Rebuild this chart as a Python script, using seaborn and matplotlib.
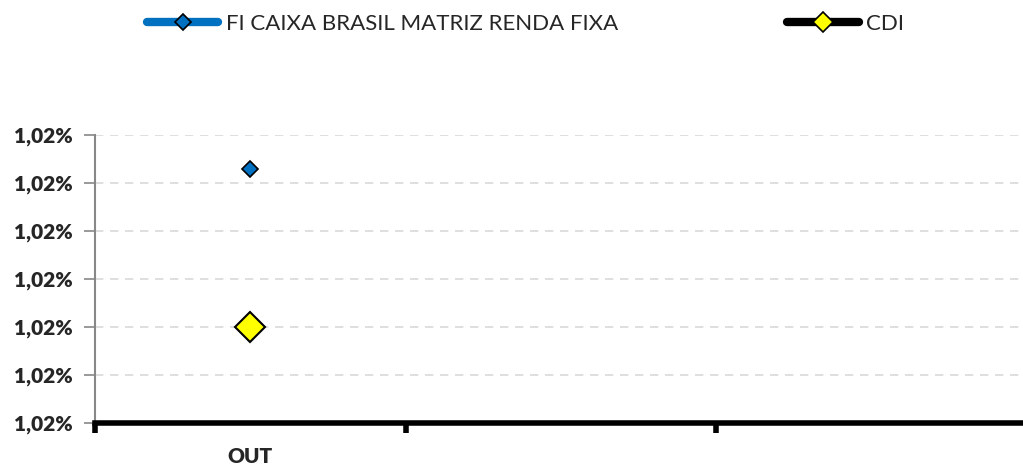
import numpy as np
import pandas as pd
import matplotlib
matplotlib.use("Agg")
import matplotlib.pyplot as plt
from matplotlib.lines import Line2D
from matplotlib.ticker import FixedLocator, FuncFormatter
import seaborn as sbn

# dados (rentabilidade mensal, %)
meses = ["OUT", "", ""]
fundo = [1.020529, np.nan, np.nan]
cdi = [1.0202, np.nan, np.nan]
y_ticks = [1.0200, 1.0201, 1.0202, 1.0203, 1.0204, 1.0205, 1.0206]

nome_fundo = "FI CAIXA BRASIL MATRIZ RENDA FIXA"
nome_cdi = "CDI"

df = pd.DataFrame({"pos": range(len(meses)), "fundo": fundo, "cdi": cdi})

sbn.set_style("white")
plt.rcParams["font.family"] = ["Lato", "DejaVu Sans"]
plt.rcParams["font.weight"] = "heavy"

fig = plt.figure(figsize=(10.23, 4.67), dpi=100)
ax = fig.add_axes([95 / 1023, 1 - 423 / 467, 932 / 1023, 288 / 467])

azul = "#0070C0"
amarelo = "#FFFF00"

sbn.lineplot(data=df, x="pos", y="fundo", marker="D", markersize=8, color=azul,
             markeredgecolor="black", markeredgewidth=1.2, linewidth=5, ax=ax)
sbn.lineplot(data=df, x="pos", y="cdi", marker="D", markersize=15, color="black",
             markerfacecolor=amarelo, markeredgecolor="black", markeredgewidth=1.5,
             linewidth=5, ax=ax)

ax.set_xlim(-0.5, len(meses) - 0.5)
ax.set_ylim(y_ticks[0], y_ticks[-1])
ax.set_xlabel("")
ax.set_ylabel("")

# eixo x: marcas nas fronteiras, rótulos no centro
ax.xaxis.set_major_locator(FixedLocator([i - 0.5 for i in range(len(meses))]))
ax.xaxis.set_minor_locator(FixedLocator(list(range(len(meses)))))
ax.set_xticklabels([""] * len(meses))
ax.set_xticklabels(meses, minor=True)
ax.tick_params(axis="x", which="major", bottom=True, direction="out", length=7, width=4, color="black")
ax.tick_params(axis="x", which="minor", bottom=True, length=0, pad=17, labelsize=15)

ax.set_yticks(y_ticks)
ax.yaxis.set_major_formatter(FuncFormatter(lambda v, p: f"{v:.2f}%".replace(".", ",")))
ax.tick_params(axis="y", left=True, direction="out", length=8, width=1.2, color="#888888",
               labelsize=15, pad=8)

ax.grid(axis="y", linestyle=(0, (5, 4)), color="#D9D9D9", linewidth=1.2)
ax.grid(axis="x", visible=False)

for s in ["top", "right"]:
    ax.spines[s].set_visible(False)
ax.spines["left"].set_color("#888888")
ax.spines["left"].set_linewidth(1.5)
ax.spines["bottom"].set_color("black")
ax.spines["bottom"].set_linewidth(4)
ax.spines["bottom"].set_zorder(5)

if ax.get_legend() is not None:
    ax.get_legend().remove()

handles = [
    Line2D([], [], color=azul, linewidth=6, solid_capstyle="round", marker="D",
           markersize=8, markerfacecolor=azul, markeredgecolor="black", markeredgewidth=1.2),
    Line2D([], [], color="black", linewidth=6, solid_capstyle="round", marker="D",
           markersize=10, markerfacecolor=amarelo, markeredgecolor="black", markeredgewidth=1.2),
]
fig.legend(handles, [nome_fundo, nome_cdi], loc="center", bbox_to_anchor=(0.514, 0.949),
           ncol=2, frameon=False, handlelength=3.2, handletextpad=0.35,
           columnspacing=7.6, prop={"family": ["Lato", "DejaVu Sans"], "weight": "normal", "size": 16})

fig.savefig("out.png", dpi=100)
